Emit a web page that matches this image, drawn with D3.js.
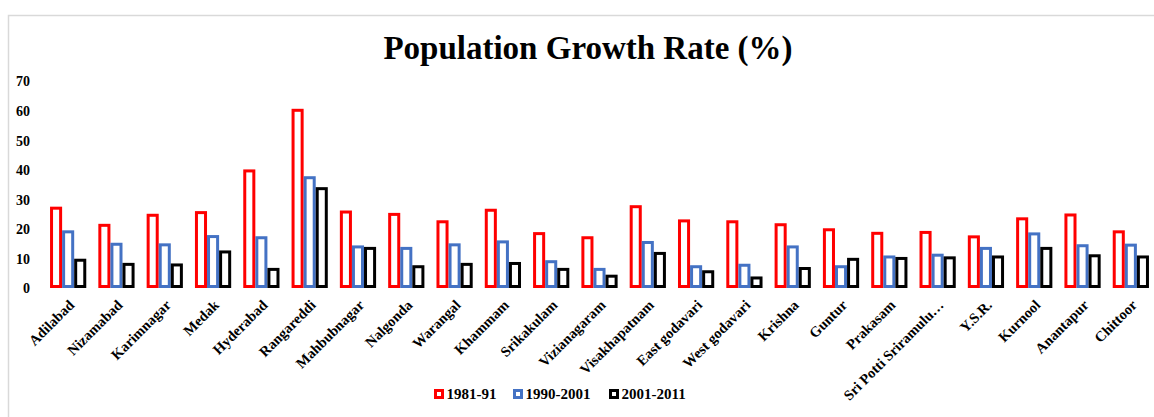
<!DOCTYPE html>
<html><head><meta charset="utf-8">
<script src="https://cdn.jsdelivr.net/npm/d3@7/dist/d3.min.js"></script>
<style>html,body{margin:0;padding:0;background:#fff;}svg{display:block;}</style>
</head><body>
<svg id="chart" width="1154" height="417"></svg>
<script>
const districts = ["Adilabad","Nizamabad","Karimnagar","Medak","Hyderabad","Rangareddi","Mahbubnagar","Nalgonda","Warangal","Khammam","Srikakulam","Vizianagaram","Visakhapatnam","East godavari","West godavari","Krishna","Guntur","Prakasam","Sri Potti Sriramulu\u2026","Y.S.R.","Kurnool","Anantapur","Chittoor"];
const series = ["1981-91","1990-2001","2001-2011"];
const growth1981 = [27.5,21.7,25.1,26.0,40.1,60.6,26.2,25.4,22.9,26.8,18.9,17.5,28.0,23.2,22.9,21.9,20.2,19.0,19.3,17.8,23.9,25.2,19.5];
const growth1991 = [19.5,15.3,15.1,17.9,17.5,37.8,14.4,13.9,15.1,16.1,9.4,6.8,15.9,7.7,8.2,14.4,7.7,11.0,11.6,13.9,18.8,14.8,15.0];
const growth2001 = [9.9,8.5,8.3,12.7,6.8,34.1,13.9,7.7,8.5,8.8,6.8,4.5,12.2,6.0,3.9,7.1,10.2,10.5,10.7,11.0,13.9,11.4,11.0];
const yTicks = [0,10,20,30,40,50,60,70];
const colors = ["#FF0000","#4472C4","#000000"];

const values = [growth1981, growth1991, growth2001];
const svg = d3.select("#chart");
const font = "'Liberation Serif','Times New Roman',serif";

// chart border
svg.append("rect").attr("x",8.5).attr("y",15.5).attr("width",1160).attr("height",420)
  .attr("fill","none").attr("stroke","#d9d9d9").attr("stroke-width",1.5);

const x0 = d3.scaleBand().domain(districts).range([44,1155]).paddingInner(0.25).paddingOuter(0.125);
const x1 = d3.scaleBand().domain(series).range([0,x0.bandwidth()]);
const y = d3.scaleLinear().domain([0,70]).range([288,81]);

// title
svg.append("text").attr("x",588).attr("y",59).attr("text-anchor","middle")
  .attr("font-family",font).attr("font-weight","bold").attr("font-size",33).attr("fill","#000")
  .text("Population Growth Rate (%)");

// y axis
const yAxis = d3.axisLeft(y).tickValues(yTicks).tickSize(0).tickPadding(0);
const gy = svg.append("g").attr("transform","translate(30,0)").call(yAxis);
gy.select(".domain").remove();
gy.selectAll("text").attr("font-family",font).attr("font-weight","bold").attr("font-size",14).attr("fill","#000").attr("dy","0.35em");

// bars
const sw = 3;
const groups = svg.append("g").selectAll("g").data(districts).join("g")
  .attr("transform",d=>`translate(${x0(d)},0)`);
groups.selectAll("rect").data((d,i)=>series.map((s,j)=>({s, v: values[j][i], c: colors[j]}))).join("rect")
  .attr("x",d=>x1(d.s)+sw/2)
  .attr("width",x1.bandwidth()-sw)
  .attr("y",d=>y(d.v)+sw/2)
  .attr("height",d=>Math.max(0,y(0)-y(d.v)-sw))
  .attr("fill","#fff").attr("stroke",d=>d.c).attr("stroke-width",sw);

// x axis labels
const xAxis = d3.axisBottom(x0).tickSize(0).tickPadding(0);
const gx = svg.append("g").attr("transform","translate(0,288)").call(xAxis);
gx.select(".domain").remove();
gx.selectAll("text")
  .attr("font-family",font).attr("font-weight","bold").attr("font-size",14.5).attr("fill","#000")
  .attr("text-anchor","end").attr("dy",0).attr("y",0)
  .attr("transform","translate(7,18) rotate(-45)");

// legend
const legX = [434, 513, 609];
const lg = svg.append("g");
series.forEach((s,j)=>{
  lg.append("rect").attr("x",legX[j]+1.5).attr("y",390.5).attr("width",7).attr("height",7)
    .attr("fill","#fff").attr("stroke",colors[j]).attr("stroke-width",3);
  lg.append("text").attr("x",legX[j]+12.5).attr("y",398.5).attr("font-family",font).attr("font-weight","bold")
    .attr("font-size",15).attr("fill","#000").text(s);
});
</script>
</body></html>
